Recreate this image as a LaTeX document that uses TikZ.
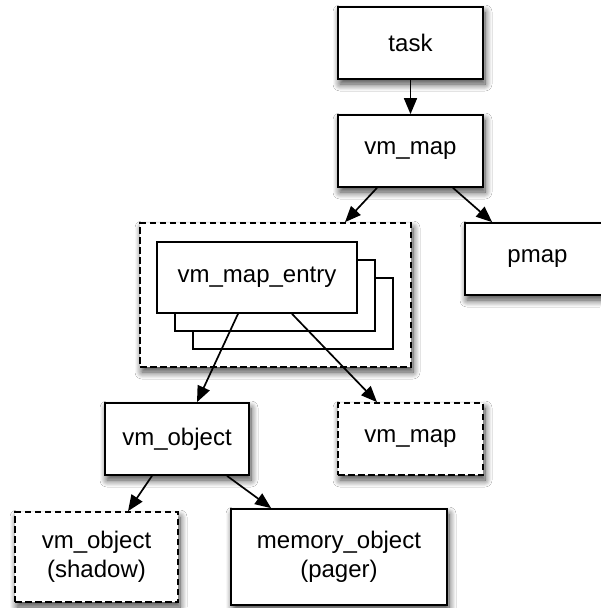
\documentclass[tikz,border=0pt]{standalone}
\usepackage{fontspec}
\setmainfont{Liberation Sans}
\usetikzlibrary{arrows.meta,calc,shadows.blur}
\begin{document}
\begin{tikzpicture}[x=1pt,y=-1pt,
  shad/.style={blur shadow={shadow xshift=2pt,shadow yshift=-5pt,shadow blur radius=7pt,shadow blur steps=10,shadow opacity=75}},
  box/.style={draw=black,line width=1.7pt,fill=white,rectangle,inner sep=0pt,align=center,
    font=\fontsize{24}{28.5}\selectfont},
  solidbox/.style={box,shad},
  dashbox/.style={box,shad,dash pattern=on 6.5pt off 3.5pt},
  entrybox/.style={box,minimum width=200pt,minimum height=71pt},
  conn/.style={line width=1.7pt,-{Triangle[length=16pt,width=13pt]}}]
\useasboundingbox[fill=white] (0,0) rectangle (600,608);
\node[solidbox,minimum width=145pt,minimum height=72pt] (task) at (410.5,43) {task};
\node[solidbox,minimum width=145pt,minimum height=72pt] (vm) at (410.5,151) {vm\_map};
\node[solidbox,minimum width=145pt,minimum height=72pt] (pmap) at (537.5,259) {pmap};
\node[dashbox,minimum width=271pt,minimum height=144pt] (outer) at (275.5,295) {};
\node[entrybox] (e3) at (293,313.5) {};
\node[entrybox] (e2) at (275,295.5) {};
\node[entrybox] (e1) at (257,277.5) {vm\_map\_entry};
\node[solidbox,minimum width=144pt,minimum height=72pt] (vmobj) at (177,439) {vm\_object};
\node[dashbox,minimum width=145pt,minimum height=72pt] (vm2) at (410.5,439) {vm\_map};
\node[dashbox,minimum width=163pt,minimum height=90pt] (shadowobj) at (96.5,557) {vm\_object\\(shadow)};
\node[solidbox,minimum width=216pt,minimum height=96pt] (memobj) at (339,557) {memory\_object\\(pager)};
\draw[conn] (task.south) -- (vm.north);
\draw[conn] ($(vm.south)+(-33.5,0)$) -- ($(outer.north)+(69.5,0)$);
\draw[conn] ($(vm.south)+(42.5,0)$) -- ($(pmap.north west)+(28,0)$);
\draw[conn] ($(e1.south)+(-19,0)$) -- ($(vmobj.north)+(20,0)$);
\draw[conn] ($(e1.south)+(35,0)$) -- ($(vm2.north)+(-33.5,0)$);
\draw[conn] ($(vmobj.south)+(-25,0)$) -- ($(shadowobj.north)+(31.5,0)$);
\draw[conn] ($(vmobj.south)+(50,0)$) -- ($(memobj.north west)+(41,0)$);
\end{tikzpicture}
\end{document}
